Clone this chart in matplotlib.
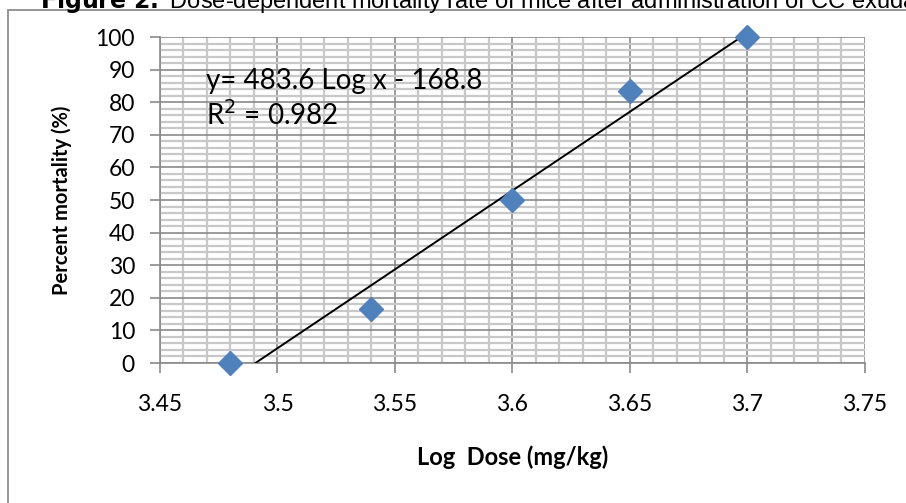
import matplotlib.pyplot as plt
import matplotlib.patches as mpatches
from matplotlib.ticker import MultipleLocator
import numpy as np

# data
log_dose = [3.48, 3.54, 3.6, 3.65, 3.7]
mortality = [0, 16.7, 50, 83.3, 100]
x_ticks = [3.45, 3.5, 3.55, 3.6, 3.65, 3.7, 3.75]
x_tick_labels = ['3.45', '3.5', '3.55', '3.6', '3.65', '3.7', '3.75']
y_ticks = [0, 10, 20, 30, 40, 50, 60, 70, 80, 90, 100]

body_font = ['Lato', 'DejaVu Sans']

fig = plt.figure(figsize=(9.06, 5.03), dpi=100)
ax = fig.add_axes([0.1766, 0.2783, 0.778, 0.6481])

# outer frame of the chart box
fig.patches.append(mpatches.Rectangle((8 / 906, -0.1), 1.2, 1 - 10 / 503 + 0.1,
                                      transform=fig.transFigure, fill=False,
                                      edgecolor='#8c8c8c', linewidth=1.3))

# caption on top, cut off at the top edge like the source
fig.text(40 / 906, 1 - 8 / 503,
         r'$\bf{Figure\ 2.}$ Dose-dependent mortality rate of mice after administration of CC exudate',
         fontsize=17, family=['Liberation Sans', 'DejaVu Sans'], va='baseline', ha='left')

# grid
ax.xaxis.set_minor_locator(MultipleLocator(0.01))
ax.yaxis.set_minor_locator(MultipleLocator(2))
ax.grid(which='minor', color='#c8c8c8', linewidth=1.6, zorder=0)
ax.grid(which='major', color='#8a8a8a', linewidth=1.2, zorder=0)
ax.set_axisbelow(True)

# trend line (least squares), drawn from y=0 up to last point
slope, intercept = np.polyfit(log_dose, mortality, 1)
x0 = -intercept / slope
xs = np.array([x0, log_dose[-1]])
ax.plot(xs, slope * xs + intercept, color='black', linewidth=1.4, zorder=3)

ax.plot(log_dose, mortality, linestyle='none', marker='D', markersize=12,
        color='#4f81bd', zorder=4, clip_on=False)

ax.set_xlim(3.45, 3.75)
ax.set_ylim(0, 100)
ax.set_xticks(x_ticks)
ax.set_xticklabels(x_tick_labels)
ax.set_yticks(y_ticks)

for side in ['top', 'right']:
    ax.spines[side].set_visible(False)
for side in ['left', 'bottom']:
    ax.spines[side].set_color('#8a8a8a')
    ax.spines[side].set_linewidth(1.2)

ax.tick_params(which='minor', length=0)
ax.tick_params(axis='x', which='major', length=7, width=1.2, color='#8a8a8a', pad=15)
ax.tick_params(axis='y', which='major', length=7, width=1.2, color='#8a8a8a', pad=11)
for lab in ax.get_xticklabels() + ax.get_yticklabels():
    lab.set_family(body_font)
    lab.set_fontsize(16.5)

ax.set_xlabel('Log  Dose (mg/kg)', fontsize=17, fontweight='bold', family=body_font, labelpad=22)
ax.set_ylabel('Percent mortality (%)', fontsize=14.5, fontweight='bold', family=body_font, labelpad=17)

ax.text(3.4694, 86.5, 'y= 483.6 Log x - 168.8', fontsize=20, family=body_font, va='center')
ax.text(3.4694, 76, r'R$^2$ = 0.982', fontsize=20, family=body_font, va='center')

fig.savefig('out.png', dpi=100)
